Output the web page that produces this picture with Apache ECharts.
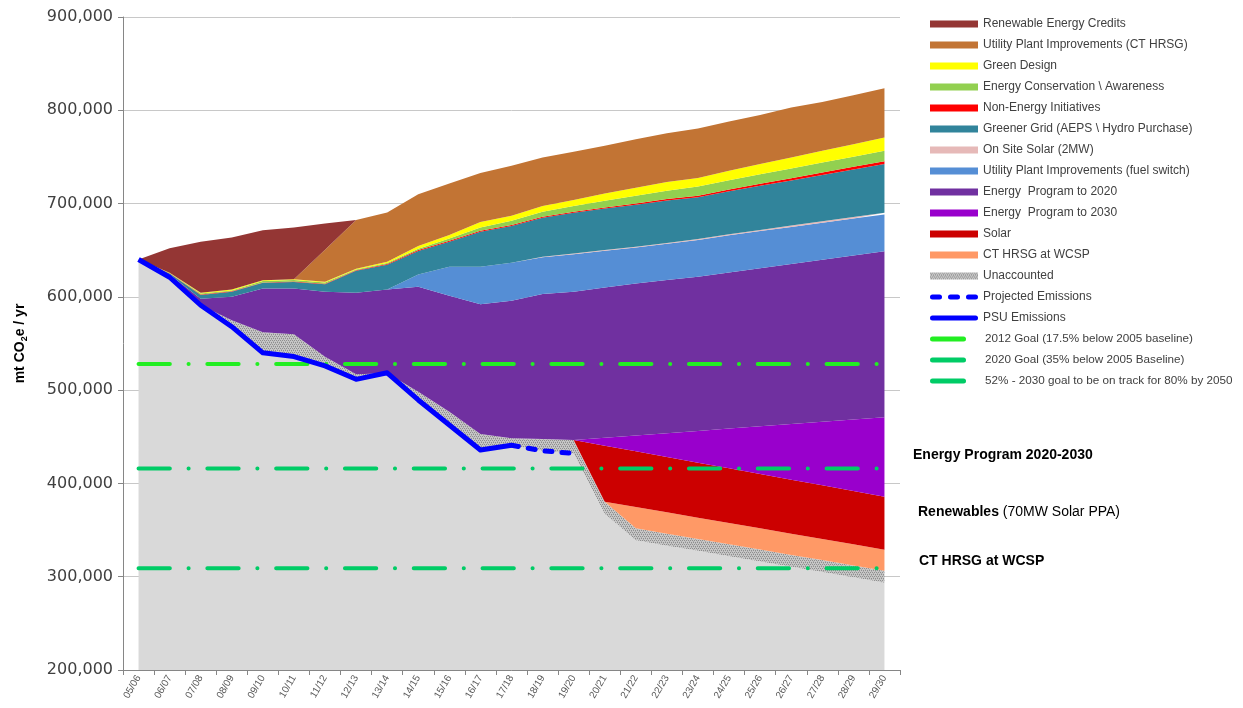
<!DOCTYPE html>
<html>
<head>
<meta charset="utf-8">
<script src="https://cdn.jsdelivr.net/npm/echarts@6/dist/echarts.min.js"></script>
<style>
  html, body { margin: 0; padding: 0; background: #fff; }
  #chart { width: 1243px; height: 708px; }
</style>
</head>
<body>
<div id="chart"></div>
<script>
const years = ['05/06', '06/07', '07/08', '08/09', '09/10', '10/11', '11/12', '12/13', '13/14', '14/15', '15/16', '16/17', '17/18',
  '18/19', '19/20', '20/21', '21/22', '22/23', '23/24', '24/25', '25/26', '26/27', '27/28', '28/29', '29/30'];

// stacked wedges, bottom first (mt CO2e / yr)
const baseEmissions = [640000, 621000, 591000, 568000, 540000, 536000, 526000, 511600, 517000, 489500, 462600, 435800, 441000,
  435000, 432200, 367500, 339000, 333300, 327700, 322000, 316300, 310600, 305000, 299300, 293600];
const unaccounted = [0, 0, 0, 7000, 22000, 24000, 9800, 5400, 1000, 8800, 14300, 17100, 7300,
  12600, 14300, 12900, 12900, 12800, 12800, 12800, 12800, 12800, 12800, 12800, 12800];
const ctHrsgWcsp = [0, 0, 0, 0, 0, 0, 0, 0, 0, 0, 0, 0, 0,
  0, 0, 0, 22800, 22900, 22800, 22800, 22800, 22700, 22600, 22600, 22600];
const solar = [0, 0, 0, 0, 0, 0, 0, 0, 0, 0, 0, 0, 0,
  0, 0, 60000, 59700, 59300, 58900, 58600, 58200, 57900, 57600, 57200, 56800];
const program2030 = [0, 0, 0, 0, 0, 0, 0, 0, 0, 0, 0, 0, 0,
  0, 0, 8600, 17000, 25600, 34100, 42600, 51100, 59700, 68100, 76700, 85200];
const program2020 = [0, 3000, 7000, 25000, 47000, 49000, 69600, 87500, 90000, 112500, 124300, 139300, 147500,
  155400, 158900, 161100, 163000, 164100, 165200, 167300, 169500, 171500, 173700, 175800, 178000];
const fuelSwitch = [0, 0, 0, 0, 0, 0, 0, 0, 0, 13200, 31100, 40100, 40700,
  39500, 40400, 39200, 38400, 38800, 39500, 39900, 39800, 39800, 39700, 39500, 39400];
const onSiteSolar = [0, 0, 0, 0, 0, 0, 0, 0, 0, 0, 0, 0, 0,
  500, 700, 800, 900, 1000, 1100, 1200, 1300, 1400, 1500, 1700, 1800];
const greenerGrid = [0, 1000, 4000, 5400, 6000, 7000, 8100, 23500, 26500, 25100, 26800, 37500, 39400,
  41800, 43700, 44500, 45000, 45500, 44600, 45900, 47200, 48400, 49700, 51000, 52300];
const nonEnergy = [0, 300, 500, 500, 500, 500, 500, 600, 700, 1000, 1000, 1000, 1000,
  1000, 1000, 1200, 1400, 1600, 1800, 2000, 2200, 2400, 2600, 2800, 3000];
const conservation = [0, 300, 1000, 1000, 1400, 1500, 1400, 800, 1200, 1400, 2500, 3600, 4700,
  5400, 6100, 7200, 8300, 8900, 9700, 9900, 10100, 10500, 10700, 10900, 11100];
const greenDesign = [0, 300, 1000, 900, 1000, 1000, 800, 600, 1200, 2900, 3600, 5800, 5300,
  6100, 6400, 7900, 8500, 9300, 9300, 10100, 11000, 11700, 12500, 13400, 14200];
const ctHrsgUtility = [0, 0, 0, 0, 0, 0, 34300, 52300, 52900, 55600, 55400, 52500, 53600,
  52100, 51800, 51100, 52100, 52400, 53000, 52900, 52700, 53600, 52500, 52300, 52700];
const recCredits = [0, 26100, 54500, 55800, 53600, 55400, 28200, 0, 0, 0, 0, 0, 0,
  0, 0, 0, 0, 0, 0, 0, 0, 0, 0, 0, 0];

// emission lines
const psuEmissions = [640000, 621000, 591000, 568000, 540000, 536000, 526000, 511600, 518600, 489500, 462600, 435800, 441000,
  null, null, null, null, null, null, null, null, null, null, null, null];
const projectedEmissions = [null, null, null, null, null, null, null, null, null, null, null, null, 441000,
  435000, 432200, null, null, null, null, null, null, null, null, null, null];

// goals
const goal2012 = 528000;
const goal2020 = 416000;
const goal2030 = 309000;

const yTicks = [200000, 300000, 400000, 500000, 600000, 700000, 800000, 900000];

// dotted grey fill for "Unaccounted"
function hatchCanvas() {
  const c = document.createElement('canvas');
  c.width = 4; c.height = 4;
  const ctx = c.getContext('2d');
  ctx.fillStyle = '#c6c6c6';
  ctx.fillRect(0, 0, 4, 4);
  ctx.fillStyle = '#8e8e8e';
  ctx.fillRect(0, 0, 1, 1); ctx.fillRect(2, 0, 1, 1);
  ctx.fillRect(1, 2, 1, 1); ctx.fillRect(3, 2, 1, 1);
  ctx.fillStyle = '#ababab';
  ctx.fillRect(1, 1, 1, 1); ctx.fillRect(3, 3, 1, 1);
  return c;
}
const hatch = { image: hatchCanvas(), repeat: 'repeat' };

function area(name, data, color) {
  return {
    name: name, type: 'line', stack: 'total', data: data,
    symbol: 'none', silent: true,
    lineStyle: { width: 0 },
    itemStyle: { color: color },
    areaStyle: { color: color, opacity: 1 },
    z: 2
  };
}

function goal(name, value, color) {
  return {
    name: name, type: 'line', silent: true, symbol: 'none',
    data: [[years[0], value], [years[years.length - 1], value]],
    itemStyle: { color: color },
    lineStyle: { color: color, width: 4, type: [31.3, 18.7, 0.1, 18.7], cap: 'round' },
    z: 6
  };
}

const names = {
  rec: 'Renewable Energy Credits',
  ctu: 'Utility Plant Improvements (CT HRSG)',
  gd: 'Green Design',
  ec: 'Energy Conservation \\ Awareness',
  ne: 'Non-Energy Initiatives',
  gg: 'Greener Grid (AEPS \\ Hydro Purchase)',
  oss: 'On Site Solar (2MW)',
  fs: 'Utility Plant Improvements (fuel switch)',
  p20: 'Energy  Program to 2020',
  p30: 'Energy  Program to 2030',
  sol: 'Solar',
  wcsp: 'CT HRSG at WCSP',
  un: 'Unaccounted',
  proj: 'Projected Emissions',
  psu: 'PSU Emissions',
  g12: '2012 Goal (17.5% below 2005 baseline)',
  g20: '2020 Goal (35% below 2005 Baseline)',
  g30: '52% - 2030 goal to be on track for 80% by 2050'
};

const chart = echarts.init(document.getElementById('chart'));
const fontLeg = { fontSize: 12, lineHeight: 14, color: '#404040', fontFamily: 'Liberation Sans' };
const goalIcon = 'path://M2.5,0H33.5A2.5,2.5,0,0,1,33.5,5H2.5A2.5,2.5,0,0,1,2.5,0Z';

chart.setOption({
  animation: false,
  backgroundColor: '#fff',
  grid: { left: 123, right: 343, top: 17, bottom: 38 },
  xAxis: {
    type: 'category',
    data: years,
    boundaryGap: true,
    axisLine: { lineStyle: { color: '#868686' } },
    axisTick: { show: true, interval: 0, length: 5, lineStyle: { color: '#868686' } },
    axisLabel: { interval: 0, rotate: 60, fontSize: 10, margin: 6, color: '#595959', fontFamily: 'Liberation Sans' }
  },
  yAxis: {
    type: 'value',
    min: yTicks[0], max: yTicks[yTicks.length - 1], interval: 100000,
    name: '{a|mt CO}{b|2}{a|e / yr}',
    nameLocation: 'middle', nameRotate: 90, nameGap: 94,
    nameTextStyle: {
      rich: {
        a: { fontSize: 14, fontWeight: 'bold', color: '#000', fontFamily: 'Liberation Sans', lineHeight: 18 },
        b: { fontSize: 9, fontWeight: 'bold', color: '#000', fontFamily: 'Liberation Sans', lineHeight: 10, verticalAlign: 'bottom' }
      }
    },
    axisLine: { show: true, lineStyle: { color: '#868686' } },
    axisTick: { show: true, length: 5, lineStyle: { color: '#868686' } },
    splitLine: { lineStyle: { color: '#c8c8c8' } },
    axisLabel: {
      fontSize: 16, color: '#404040', fontFamily: 'DejaVu Sans', margin: 10,
      formatter: v => v.toLocaleString('en-US')
    }
  },
  legend: [
    {
      orient: 'vertical', left: 925, top: 12,
      itemWidth: 48, itemHeight: 7, itemGap: 7,
      selectedMode: false,
      itemStyle: { borderWidth: 0 },
      textStyle: fontLeg,
      data: [
        { name: names.rec, icon: 'rect' },
        { name: names.ctu, icon: 'rect' },
        { name: names.gd, icon: 'rect' },
        { name: names.ec, icon: 'rect' },
        { name: names.ne, icon: 'rect' },
        { name: names.gg, icon: 'rect' },
        { name: names.oss, icon: 'rect' },
        { name: names.fs, icon: 'rect' },
        { name: names.p20, icon: 'rect' },
        { name: names.p30, icon: 'rect' },
        { name: names.sol, icon: 'rect' },
        { name: names.wcsp, icon: 'rect' },
        { name: names.un, icon: 'rect', itemStyle: { color: hatch } },
        { name: names.proj, icon: 'path://M2.5,0H9.5A2.5,2.5,0,0,1,9.5,5H2.5A2.5,2.5,0,0,1,2.5,0Z M20.5,0H27.5A2.5,2.5,0,0,1,27.5,5H20.5A2.5,2.5,0,0,1,20.5,0Z M38.5,0H45.5A2.5,2.5,0,0,1,45.5,5H38.5A2.5,2.5,0,0,1,38.5,0Z' },
        { name: names.psu, icon: 'path://M2.5,0H45.5A2.5,2.5,0,0,1,45.5,5H2.5A2.5,2.5,0,0,1,2.5,0Z' }
      ]
    },
    {
      orient: 'vertical', left: 925, top: 327,
      itemWidth: 36, itemHeight: 7, itemGap: 7,
      selectedMode: false,
      itemStyle: { borderWidth: 0 },
      formatter: n => '{g|}' + n,
      textStyle: Object.assign({}, fontLeg, { fontSize: 11.7, rich: { g: { width: 14 } } }),
      data: [
        { name: names.g12, icon: goalIcon },
        { name: names.g20, icon: goalIcon },
        { name: names.g30, icon: goalIcon }
      ]
    }
  ],
  graphic: [
    { type: 'text', x: 162, y: 348, style: { text: '17.5%', font: 'bold 23px "Liberation Sans"', fill: '#000', verticalAlign: 'middle' } },
    { type: 'text', x: 168, y: 449, style: { text: '35%', font: 'bold 23px "Liberation Sans"', fill: '#000', verticalAlign: 'middle' } },
    { type: 'text', x: 167, y: 548, style: { text: '52%', font: 'bold 23px "Liberation Sans"', fill: '#000', verticalAlign: 'middle' } },
    { type: 'text', x: 913, y: 455, style: { text: 'Energy Program 2020-2030', font: 'bold 14px "Liberation Sans"', fill: '#000', verticalAlign: 'middle' } },
    { type: 'text', x: 918, y: 512, style: {
        text: '{b|Renewables} (70MW Solar PPA)', font: '14px "Liberation Sans"', fill: '#000', verticalAlign: 'middle',
        rich: { b: { fontWeight: 'bold', fontSize: 14, fontFamily: 'Liberation Sans', fill: '#000' } } } },
    { type: 'text', x: 919, y: 561, style: { text: 'CT HRSG at WCSP', font: 'bold 14px "Liberation Sans"', fill: '#000', verticalAlign: 'middle' } }
  ],
  series: [
    area('base', baseEmissions, '#d9d9d9'),
    area(names.un, unaccounted, hatch),
    area(names.wcsp, ctHrsgWcsp, '#ff9966'),
    area(names.sol, solar, '#cc0000'),
    area(names.p30, program2030, '#9900cc'),
    area(names.p20, program2020, '#7030a0'),
    area(names.fs, fuelSwitch, '#558ed5'),
    area(names.oss, onSiteSolar, '#e6b9b8'),
    area(names.gg, greenerGrid, '#31849b'),
    area(names.ne, nonEnergy, '#ff0000'),
    area(names.ec, conservation, '#92d050'),
    area(names.gd, greenDesign, '#ffff00'),
    area(names.ctu, ctHrsgUtility, '#c27434'),
    area(names.rec, recCredits, '#943634'),
    goal(names.g12, goal2012, '#22ee22'),
    goal(names.g20, goal2020, '#00cc66'),
    goal(names.g30, goal2030, '#00cc66'),
    {
      name: names.proj, type: 'line', data: projectedEmissions, symbol: 'none', silent: true,
      itemStyle: { color: '#0000ff' },
      lineStyle: { color: '#0000ff', width: 5, type: [7, 10], cap: 'round' },
      z: 7
    },
    {
      name: names.psu, type: 'line', data: psuEmissions, symbol: 'none', silent: true,
      itemStyle: { color: '#0000ff' },
      lineStyle: { color: '#0000ff', width: 5, join: 'round' },
      z: 8
    }
  ]
});
</script>
</body>
</html>
